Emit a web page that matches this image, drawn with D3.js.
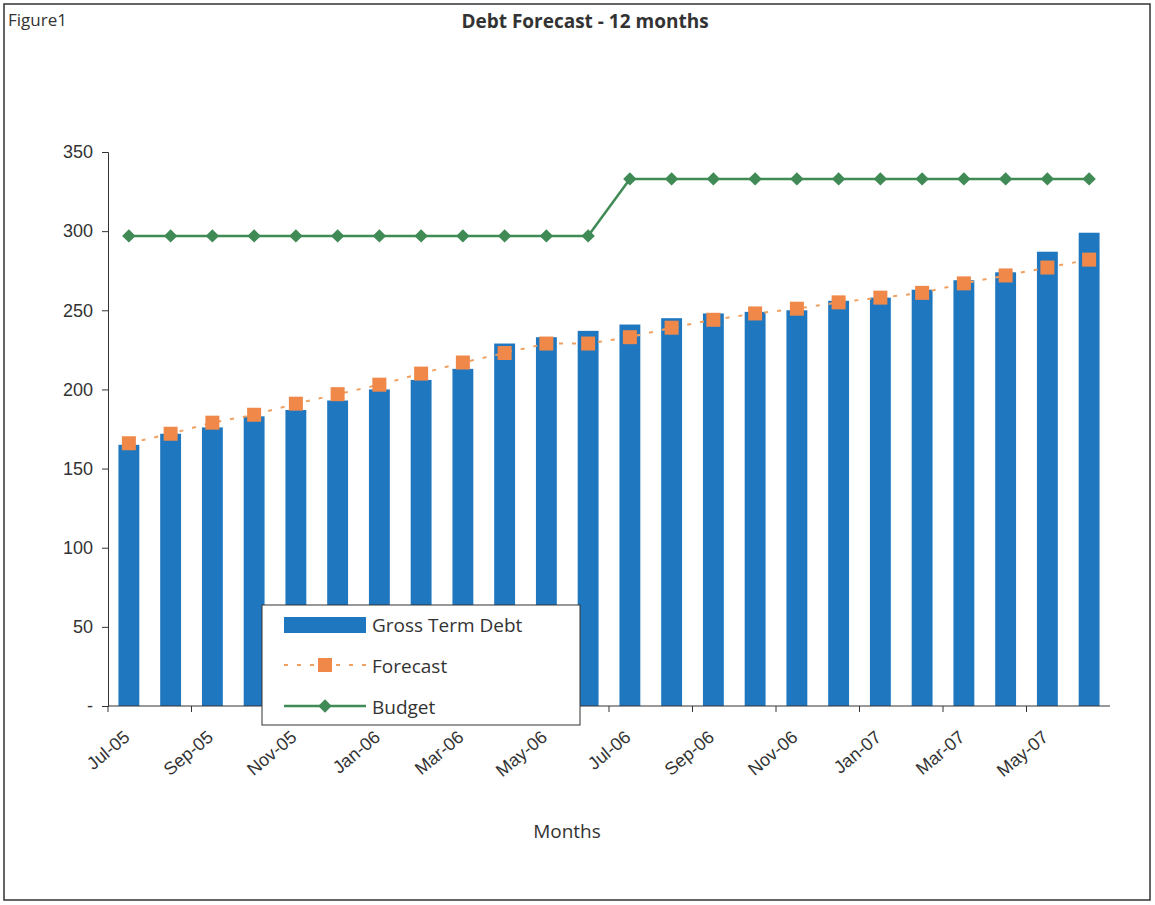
<!DOCTYPE html>
<html><head><meta charset="utf-8">
<script src="https://cdn.jsdelivr.net/npm/d3@7"></script>
<style>body{margin:0;background:#fff;font-family:"Open Sans",sans-serif}</style>
</head><body><svg id="chart" width="1155" height="905"></svg>
<script>
var months = ["Jul-05","Aug-05","Sep-05","Oct-05","Nov-05","Dec-05","Jan-06","Feb-06","Mar-06","Apr-06","May-06","Jun-06",
  "Jul-06","Aug-06","Sep-06","Oct-06","Nov-06","Dec-06","Jan-07","Feb-07","Mar-07","Apr-07","May-07","Jun-07"];
var grossDebt = [165,172,176,183,187,193,200,206,213,229,233,237,241,245,248,249,250,256,258,263,269,274,287,299];
var forecast = [166,172,179,184,191,197,203,210,217,223,229,229,233,239,244,248,251,255,258,261,267,272,277,282];
var budget = [297,297,297,297,297,297,297,297,297,297,297,297,333,333,333,333,333,333,333,333,333,333,333,333];
var yTicks = [0,50,100,150,200,250,300,350];

var svg = d3.select("#chart");
svg.append("rect").attr("x",4).attr("y",4).attr("width",1146).attr("height",896)
  .attr("fill","none").attr("stroke","#333").attr("stroke-width",1.5);
svg.append("text").attr("x",8).attr("y",26).attr("font-size",17).attr("fill","#333").text("Figure1");
svg.append("text").attr("x",585).attr("y",28).attr("text-anchor","middle").attr("font-size",19)
  .attr("font-weight","bold").attr("fill","#333").text("Debt Forecast - 12 months");

var mLeft = 108, mRight = 1110, mTop = 152, mBottom = 706;
var x = d3.scaleBand().domain(months).range([mLeft, mRight]).paddingInner(0.5).paddingOuter(0.25);
var y = d3.scaleLinear().domain([0,350]).range([mBottom, mTop]);

var yAxis = svg.append("g").attr("transform",`translate(${mLeft},0)`)
  .call(d3.axisLeft(y).tickValues(yTicks).tickSize(6).tickFormat(d => d === 0 ? "-" : d));
yAxis.selectAll("text").attr("font-size",18).attr("fill","#333").attr("dx",-6);
yAxis.selectAll("line,path").attr("stroke","#333");

svg.append("g").selectAll("rect").data(grossDebt).join("rect")
  .attr("x",(d,i)=>x(months[i])).attr("width",x.bandwidth())
  .attr("y",d=>y(d)).attr("height",d=>mBottom-y(d)).attr("fill","#1f77c0");
svg.append("line").attr("x1",mLeft).attr("x2",mRight).attr("y1",mBottom).attr("y2",mBottom).attr("stroke","#333");
svg.append("g").selectAll("line").data(months.filter((d,i)=>i%2===0)).join("line")
  .attr("x1",d=>x(d)-x.step()*x.paddingInner()/2).attr("x2",d=>x(d)-x.step()*x.paddingInner()/2)
  .attr("y1",mBottom).attr("y2",mBottom+6).attr("stroke","#333");

var cx = i => x(months[i]) + x.bandwidth()/2;
svg.append("path").datum(forecast).attr("fill","none").attr("stroke","#f0a060")
  .attr("stroke-width",2).attr("stroke-dasharray","4,9")
  .attr("d",d3.line().x((d,i)=>cx(i)).y(d=>y(d)));
svg.append("g").selectAll("rect").data(forecast).join("rect")
  .attr("x",(d,i)=>cx(i)-7).attr("y",d=>y(d)-7).attr("width",14).attr("height",14).attr("fill","#f0884a");

svg.append("path").datum(budget).attr("fill","none").attr("stroke","#3f8a55").attr("stroke-width",2.5)
  .attr("d",d3.line().x((d,i)=>cx(i)).y(d=>y(d)));
var diamond = d3.symbol().type(d3.symbolSquare).size(90);
svg.append("g").selectAll("path").data(budget).join("path")
  .attr("d",diamond).attr("transform",(d,i)=>`translate(${cx(i)},${y(d)}) rotate(45)`).attr("fill","#3f8a55");

svg.append("text").attr("x",567).attr("y",838).attr("text-anchor","middle").attr("font-size",19)
  .attr("fill","#333").text("Months");

var lg = svg.append("g").attr("transform","translate(262,605)");
lg.append("rect").attr("width",318).attr("height",120).attr("fill","#fff").attr("stroke","#333");
lg.append("rect").attr("x",22).attr("y",12).attr("width",82).attr("height",16).attr("fill","#1f77c0");
lg.append("line").attr("x1",22).attr("x2",104).attr("y1",60).attr("y2",60).attr("stroke","#f0a060")
  .attr("stroke-width",2).attr("stroke-dasharray","4,9");
lg.append("rect").attr("x",56).attr("y",53).attr("width",14).attr("height",14).attr("fill","#f0884a");
lg.append("line").attr("x1",22).attr("x2",104).attr("y1",101).attr("y2",101).attr("stroke","#3f8a55").attr("stroke-width",2.5);
lg.append("path").attr("d",diamond).attr("transform","translate(63,101) rotate(45)").attr("fill","#3f8a55");
["Gross Term Debt","Forecast","Budget"].forEach((t,i)=>{
  lg.append("text").attr("x",110).attr("y",27+i*41).attr("font-size",19).attr("fill","#333").text(t);
});

var xAxis = svg.append("g").attr("transform",`translate(0,${mBottom})`)
  .call(d3.axisBottom(x).tickSize(0).tickFormat((d,i) => i % 2 === 0 ? d : ""));
xAxis.select("path").remove();
xAxis.selectAll("text").attr("font-size",18).attr("fill","#333")
  .attr("text-anchor","end").attr("transform","translate(-4,26) rotate(-40)").attr("dy","0.35em");
</script></body></html>
